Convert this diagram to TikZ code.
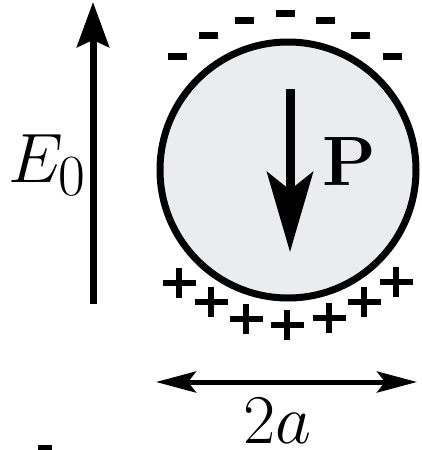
\documentclass[tikz,border=0pt]{standalone}
\usepackage{graphicx}
\usetikzlibrary{arrows.meta}
\definecolor{sphfill}{RGB}{235,236,238}
\newcommand{\bigtxt}[1]{\scalebox{2.81}{\Huge #1}}
\begin{document}
\begin{tikzpicture}[x=1pt,y=-1pt,
  big/.style={inner sep=0pt},
  sphere/.style={circle, draw=black, line width=7pt, fill=sphfill, minimum size=256pt, inner sep=0pt},
  minusbar/.style={fill=black},
  plusbar/.style={line width=5.5pt},
  fieldarrow/.style={line width=7pt, -{Stealth[length=45pt,width=32pt,inset=7pt]}},
  polarrow/.style={line width=9pt, -{Stealth[length=80pt,width=46pt,inset=18pt]}},
  sizearrow/.style={line width=5pt, {Stealth[length=40pt,width=21pt,inset=8pt]}-{Stealth[length=40pt,width=21pt,inset=8pt]}}]
\useasboundingbox (0,0) rectangle (422,450);
% sphere
\node[sphere] (sph) at (288,170) {};
% field arrow
\coordinate (e0s) at (93,304);
\coordinate (e0t) at (93,2);
\draw[fieldarrow] (e0s) -- (e0t);
\node[big, anchor=base west] (e0) at (8,182) {\bigtxt{$E_0$}};
% polarization arrow
\coordinate (ps) at (290,89);
\coordinate (pt) at (290,252);
\draw[polarrow] (ps) -- (pt);
\node[big, anchor=base west] (plabel) at (322,185) {\bigtxt{$\mathbf{P}$}};
% size arrow
\coordinate (la) at (156,382);
\coordinate (lb) at (417,382);
\draw[sizearrow] (la) -- (lb);
\node[big, anchor=base] (dlabel) at (277,443) {\bigtxt{$2a$}};
% negative charges
\foreach \cx/\cy in {177/56, 208/35, 244/20, 285/13, 325/20, 360/35, 392/56}
  \fill[minusbar] (\cx-9.5,\cy-3.5) rectangle (\cx+9.5,\cy+3.5);
% positive charges
\foreach \cx/\cy in {179/283, 211/302, 246/319, 287/325, 329/318, 364/302, 396/282}
  \draw[plusbar] (\cx-16.5,\cy) -- (\cx+16.5,\cy) (\cx,\cy-15) -- (\cx,\cy+15);
% small mark at bottom left
\fill (38,445) rectangle (52,450);
\end{tikzpicture}
\end{document}
